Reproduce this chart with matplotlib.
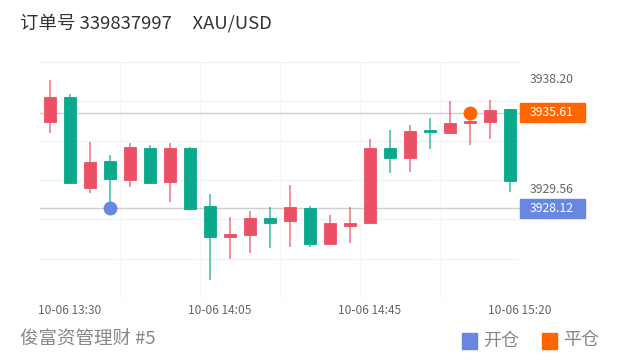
import numpy as np
import matplotlib
matplotlib.use("Agg")
import matplotlib.pyplot as plt
from matplotlib.patches import Rectangle
from matplotlib.transforms import blended_transform_factory

plt.rcParams['font.family'] = ['Noto Sans CJK SC', 'DejaVu Sans']

# 5 minute candles, 10-06 13:25 .. 15:20
opens  = [3934.90, 3936.85, 3929.69, 3931.82, 3930.34, 3932.87, 3930.20, 3932.87,
          3928.30, 3925.89, 3926.03, 3927.33, 3927.15, 3928.12, 3925.32, 3926.75,
          3926.94, 3932.82, 3932.08, 3934.23, 3934.04, 3934.80, 3934.86, 3935.88]
highs  = [3938.20, 3937.05, 3933.34, 3932.30, 3933.26, 3933.08, 3933.26, 3932.90,
          3929.21, 3927.46, 3927.91, 3928.24, 3929.94, 3928.30, 3927.59, 3928.24,
          3933.55, 3934.25, 3934.65, 3935.17, 3936.53, 3935.50, 3936.60, 3935.88]
lows   = [3934.04, 3930.08, 3929.29, 3928.12, 3929.81, 3930.08, 3928.59, 3928.00,
          3922.50, 3924.14, 3924.64, 3925.03, 3925.06, 3925.06, 3925.32, 3925.37,
          3926.94, 3930.86, 3930.99, 3932.74, 3933.99, 3933.08, 3933.55, 3929.42]
closes = [3936.85, 3930.08, 3931.77, 3930.39, 3932.95, 3930.08, 3932.87, 3928.04,
          3925.89, 3926.08, 3927.38, 3926.99, 3928.24, 3925.32, 3926.99, 3926.99,
          3932.82, 3932.08, 3934.20, 3934.07, 3934.83, 3934.96, 3935.82, 3930.28]

time_ticks = [1, 8.5, 16, 23.5]
time_labels = ["10-06 13:30", "10-06 14:05", "10-06 14:45", "10-06 15:20"]

open_idx, open_price = 3, 3928.12
close_idx, close_price = 21, 3935.61
axis_labels = [3938.20, 3929.56]

order_no = "339837997"
symbol = "XAU/USD"
account = "俊富资管理财 #5"

UP = '#ec5064'
DOWN = '#0aa98b'
BLUE = '#6787e0'
ORANGE = '#ff6600'

W, H = 620, 364
fig = plt.figure(figsize=(6.2, 3.64), dpi=100)
ax = fig.add_axes([40 / W, 1 - 298 / H, 480 / W, 236 / H])

ylo, yhi = 3921.09, 3939.58
ax.set_xlim(-0.5, len(opens) - 0.5)
ax.set_ylim(ylo, yhi)

# grid
for gy in np.linspace(ylo, yhi, 7):
    ax.axhline(gy, color='#f2f2f2', lw=1, zorder=0)
for gx in np.arange(3.5, len(opens), 4):
    ax.axvline(gx, color='#f7f7f7', lw=1, zorder=0)

# reference lines for open / close price
ax.axhline(open_price, color='#cfcfcf', lw=1, zorder=1)
ax.axhline(close_price, color='#cfcfcf', lw=1, zorder=1)

x = np.arange(len(opens))
o = np.array(opens)
c = np.array(closes)
cols = [UP if cc >= oo else DOWN for oo, cc in zip(o, c)]
ax.vlines(x, lows, highs, colors=cols, lw=1.1, alpha=0.8, zorder=2)
body = np.where(np.abs(c - o) < 0.12, 0.12 * np.sign(c - o + 1e-9), c - o)
ax.bar(x, body, bottom=o, width=0.63, color=cols, edgecolor=cols, lw=0.6, zorder=3)

ax.plot([open_idx], [open_price], 'o', ms=9, color=BLUE, zorder=5)
ax.plot([close_idx], [close_price], 'o', ms=9, color=ORANGE, zorder=5)

for s in ax.spines.values():
    s.set_visible(False)
ax.set_yticks([])
ax.set_xticks(time_ticks)
ax.set_xticklabels(time_labels, fontsize=8.6, color='#666666')
ax.tick_params(axis='x', length=0, pad=4)

# right-side price labels
tr = blended_transform_factory(ax.transAxes, ax.transData)
for v in axis_labels:
    ax.text(1 + 10 / 480, v, f"{v:.2f}", transform=tr, ha='left', va='center',
            fontsize=8.8, color='#666666')

def price_box(price, color):
    ypix = ax.transData.transform((0, price))[1]
    yf = ypix / (fig.dpi * 3.64)
    hh = 19.5 / H
    fig.patches.append(Rectangle((520 / W, yf - hh / 2), 65 / W, hh,
                                 transform=fig.transFigure, color=color, zorder=3))
    fig.text(530 / W, yf, f"{price:.2f}", ha='left', va='center',
             fontsize=8.8, color='white', zorder=4)

price_box(close_price, ORANGE)
price_box(open_price, BLUE)

# title
fig.text(20 / W, 1 - 23 / H, f"订单号 {order_no}     {symbol}", ha='left', va='center',
         fontsize=13.3, color='#333333')

# footer
fig.text(20 / W, 1 - 340 / H, account, ha='left', va='center', fontsize=13.3, color='#888888')
for x0, col, lab in [(462, BLUE, "开仓"), (542, ORANGE, "平仓")]:
    fig.patches.append(Rectangle((x0 / W, 1 - 349 / H), 15 / W, 16 / H,
                                 transform=fig.transFigure, facecolor=col,
                                 edgecolor=col, lw=1, joinstyle='round'))
    fig.text((x0 + 21) / W, 1 - 340.5 / H, lab, ha='left', va='center',
             fontsize=13, color='#888888')

fig.savefig("out.png", dpi=100)
